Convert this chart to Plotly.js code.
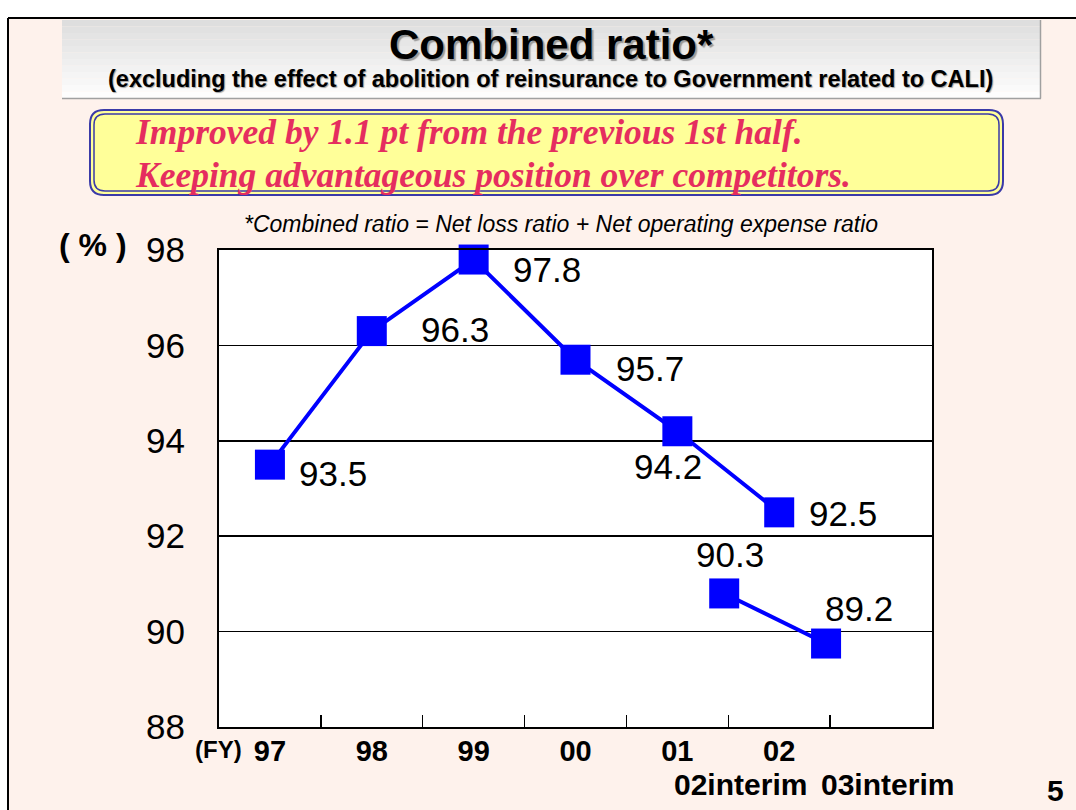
<!DOCTYPE html>
<html>
<head>
<meta charset="utf-8">
<script src="https://cdn.plot.ly/plotly-3.0.1.min.js"></script>
<style>html,body{margin:0;padding:0;background:#FEF2EC;}#chart{width:1076px;height:810px;}</style>
</head>
<body>
<div id="chart"></div>
<script>
// ---- data ----
const fiscalYears = ["97", "98", "99", "00", "01", "02"];
const combinedRatio = [93.5, 96.3, 97.8, 95.7, 94.2, 92.5];
const combinedLabels = ["93.5", "96.3", "97.8", "95.7", "94.2", "92.5"];
const interimPeriods = ["02interim", "03interim"];
const interimRatio = [90.8, 89.75];           // plotted heights
const interimLabels = ["90.3", "89.2"];        // printed labels
const yTicks = [88, 90, 92, 94, 96, 98];

// ---- label offsets (px) ----
const mainLabelShift = [[63, -9], [83, 2], [73, -10], [74, -9], [-9, -35], [64, -1]];
const interimLabelShift = [[6, 39], [33, 35]];

// ---- geometry helpers (page pixels -> paper) ----
const L = 219, R = 932, T = 250, B = 727, W = R - L, H = B - T;
const px = x => (x - L) / W;
const py = y => (B - y) / H;
const pt = (x, y) => px(x) + ',' + py(y);

function roundRect(x0, y0, x1, y1, r) {
  return 'M' + pt(x0 + r, y0) + ' L' + pt(x1 - r, y0) + ' Q' + pt(x1, y0) + ' ' + pt(x1, y0 + r) +
    ' L' + pt(x1, y1 - r) + ' Q' + pt(x1, y1) + ' ' + pt(x1 - r, y1) +
    ' L' + pt(x0 + r, y1) + ' Q' + pt(x0, y1) + ' ' + pt(x0, y1 - r) +
    ' L' + pt(x0, y0 + r) + ' Q' + pt(x0, y0) + ' ' + pt(x0 + r, y0) + ' Z';
}

const BLUE = '#0000FF';
const SANS = 'Arial, "Liberation Sans", sans-serif';
const SERIF = '"Times New Roman", "Liberation Serif", serif';

const shapes = [];
// page frame
shapes.push({type: 'rect', xref: 'paper', yref: 'paper', x0: px(0), x1: px(1076), y0: py(0), y1: py(18), fillcolor: '#FFFFFF', line: {width: 0}, layer: 'below'});
shapes.push({type: 'rect', xref: 'paper', yref: 'paper', x0: px(0), x1: px(8), y0: py(0), y1: py(810), fillcolor: '#FFFFFF', line: {width: 0}, layer: 'below'});
shapes.push({type: 'line', xref: 'paper', yref: 'paper', x0: px(8), x1: px(1076), y0: py(18), y1: py(18), line: {color: '#000', width: 2}});
shapes.push({type: 'line', xref: 'paper', yref: 'paper', x0: px(8), x1: px(8), y0: py(18), y1: py(810), line: {color: '#000', width: 2}});
// title box with stepped gradient
const nStrips = 12, tb0 = 20, tb1 = 98;
for (let i = 0; i < nStrips; i++) {
  const g = Math.round(222 + (253 - 222) * i / (nStrips - 1));
  const c = 'rgb(' + g + ',' + g + ',' + g + ')';
  shapes.push({type: 'rect', xref: 'paper', yref: 'paper', x0: px(62), x1: px(1040),
    y0: py(tb0 + (tb1 - tb0) * i / nStrips), y1: py(tb0 + (tb1 - tb0) * (i + 1) / nStrips),
    fillcolor: c, line: {width: 0}, layer: 'below'});
}
shapes.push({type: 'line', xref: 'paper', yref: 'paper', x0: px(62), x1: px(1041), y0: py(98.5), y1: py(98.5), line: {color: '#A0A0A0', width: 1.5}});
shapes.push({type: 'line', xref: 'paper', yref: 'paper', x0: px(1040.5), x1: px(1040.5), y0: py(20), y1: py(98.5), line: {color: '#A0A0A0', width: 1.5}});
// yellow callout with double border
shapes.push({type: 'path', xref: 'paper', yref: 'paper', path: roundRect(90, 110, 1003, 195, 14), fillcolor: '#FFFF99', line: {color: '#3A3AA8', width: 2}, layer: 'below'});
shapes.push({type: 'path', xref: 'paper', yref: 'paper', path: roundRect(94, 114, 999, 191, 11), line: {color: '#3A3AA8', width: 1.5}, layer: 'below'});

const annotations = [];
const addText = (text, x, y, font, xanchor, yanchor) => annotations.push({
  text: text, xref: 'paper', yref: 'paper', x: px(x), y: py(y), showarrow: false,
  xanchor: xanchor || 'center', yanchor: yanchor || 'middle', font: font});

addText('<b>Combined ratio*</b>', 551, 44, {family: SANS, size: 42, color: '#000', shadow: '2px 2px 1px #9A9A9A'});
addText('<b>(excluding the effect of abolition of reinsurance to Government related to CALI)</b>', 550, 79, {family: SANS, size: 23.5, color: '#000', shadow: '1px 1px 1px #A0A0A0'});
addText('<b><i>Improved by 1.1 pt from the previous 1st half.</i></b>', 133, 132, {family: SERIF, size: 35.5, color: '#E52D5F'}, 'left');
addText('<b><i>Keeping advantageous position over competitors.</i></b>', 133, 175, {family: SERIF, size: 35.5, color: '#E52D5F'}, 'left');
addText('<i>*Combined ratio = Net loss ratio + Net operating expense ratio</i>', 561, 224, {family: SANS, size: 23, color: '#000'});
addText('<b>( % )</b>', 93, 245, {family: SANS, size: 32, color: '#000'});
addText('<b>(FY)</b>', 218, 749, {family: SANS, size: 24, color: '#000'});
addText('<b>' + interimPeriods[0] + '</b>', 740, 784, {family: SANS, size: 30, color: '#000'});
addText('<b>' + interimPeriods[1] + '</b>', 887, 784, {family: SANS, size: 30, color: '#000'});
addText('<b>5</b>', 1055, 790, {family: SANS, size: 30, color: '#000'});

// value labels (category index used for x)
combinedRatio.forEach((v, i) => annotations.push({
  text: combinedLabels[i], xref: 'x', yref: 'y', x: i, y: v, showarrow: false,
  xanchor: 'center', yanchor: 'middle', xshift: mainLabelShift[i][0], yshift: mainLabelShift[i][1],
  font: {family: SANS, size: 35, color: '#000'}}));
interimRatio.forEach((v, i) => annotations.push({
  text: interimLabels[i], xref: 'x2', yref: 'y', x: i, y: v, showarrow: false,
  xanchor: 'center', yanchor: 'middle', xshift: interimLabelShift[i][0], yshift: interimLabelShift[i][1],
  font: {family: SANS, size: 35, color: '#000'}}));

const traces = [
  {x: fiscalYears, y: combinedRatio, type: 'scatter', mode: 'lines+markers', xaxis: 'x', yaxis: 'y',
    line: {color: BLUE, width: 4}, marker: {symbol: 'square', size: 30, color: BLUE}, cliponaxis: false, hoverinfo: 'x+y'},
  {x: interimPeriods, y: interimRatio, type: 'scatter', mode: 'lines+markers', xaxis: 'x2', yaxis: 'y',
    line: {color: BLUE, width: 4}, marker: {symbol: 'square', size: 30, color: BLUE}, cliponaxis: false, hoverinfo: 'x+y'}
];

const layout = {
  width: 1076, height: 810,
  margin: {l: L, r: 1076 - R, t: T, b: 810 - B, pad: 0},
  paper_bgcolor: '#FEF2EC', plot_bgcolor: '#FFFFFF',
  showlegend: false,
  xaxis: {type: 'category', categoryorder: 'array', categoryarray: fiscalYears, range: [-0.5, 6.5],
    tickson: 'boundaries', ticks: 'inside', ticklen: 12, tickwidth: 1.5, tickcolor: '#000',
    showline: true, mirror: true, linecolor: '#000', linewidth: 2, showgrid: false, zeroline: false,
    tickfont: {family: SANS, size: 29, color: '#000', weight: 'bold'}, ticklabelstandoff: -3, fixedrange: true},
  xaxis2: {type: 'category', categoryorder: 'array', categoryarray: interimPeriods, overlaying: 'x',
    range: [-4.96, 2.04], visible: false, fixedrange: true},
  yaxis: {range: [88, 98], tickvals: yTicks, ticktext: yTicks.map(String), ticks: 'inside', ticklen: 6, tickcolor: '#000',
    showline: true, mirror: true, linecolor: '#000', linewidth: 2, showgrid: true, gridcolor: '#000', gridwidth: 1.5,
    zeroline: false, tickfont: {family: SANS, size: 35, color: '#000'}, ticklabelstandoff: 25, fixedrange: true},
  shapes: shapes,
  annotations: annotations
};

Plotly.newPlot('chart', traces, layout, {displayModeBar: false, staticPlot: true});
</script>
</body>
</html>
